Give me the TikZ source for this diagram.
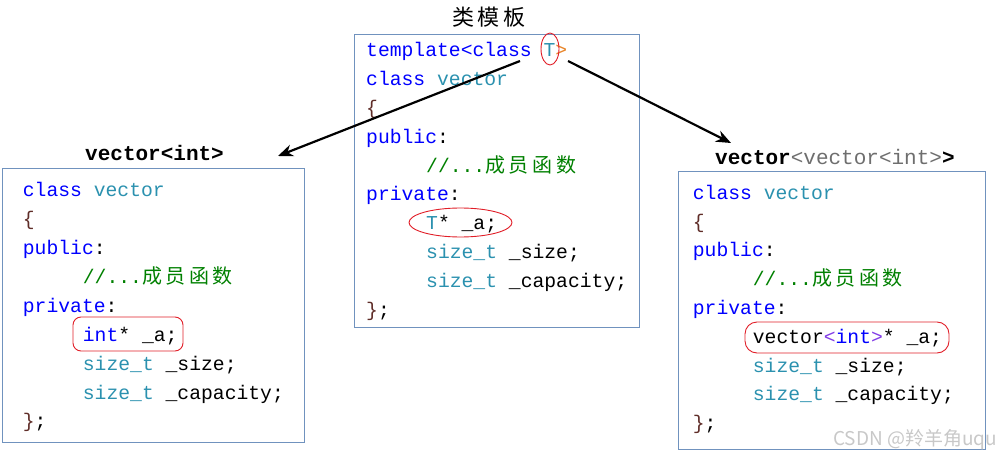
\documentclass[tikz,border=0pt]{standalone}
\usepackage{fontspec}
\setmonofont{Liberation Mono}
\newfontfamily\cjk{Noto Sans CJK SC}
\usetikzlibrary{shapes.geometric,arrows.meta}
\definecolor{kw}{RGB}{0,0,255}
\definecolor{ty}{RGB}{43,145,175}
\definecolor{cmt}{RGB}{0,128,0}
\definecolor{brc}{RGB}{95,45,40}
\definecolor{org}{RGB}{232,134,43}
\definecolor{lbgray}{RGB}{110,110,110}
\definecolor{boxc}{RGB}{112,146,190}
\definecolor{hlred}{RGB}{225,30,40}
\definecolor{ang}{RGB}{130,60,230}
\definecolor{wmc}{RGB}{200,200,200}
\newcommand\cj[1]{\makebox[23.6pt][l]{\cjk\fontsize{20}{24}\selectfont #1}}
\newcommand\cmtline{\textcolor{cmt}{//...\cj{成}\cj{员}\cj{函}\cj{数}}}
\tikzset{
  code/.style={anchor=base west, inner sep=0pt, font=\fontsize{19.7}{24}\selectfont\ttfamily},
  lbl/.style={anchor=base west, inner sep=0pt, font=\fontsize{21}{24}\selectfont\ttfamily\bfseries},
  codebox/.style={draw=boxc, line width=1pt, inner sep=0pt},
  hl/.style={draw=hlred, line width=0.9pt, inner sep=0pt},
  arr/.style={line width=2.2pt, -{Stealth[length=15pt,width=12pt]}},
}
\begin{document}
\begin{tikzpicture}[x=1pt,y=-1pt]
\useasboundingbox (0,0) rectangle (1001,457);
% boxes
\node[codebox, minimum width=285pt, minimum height=292pt] (cb) at (496.5,181) {};
\node[codebox, minimum width=302pt, minimum height=273pt] (lb) at (153,305.5) {};
\node[codebox, minimum width=307pt, minimum height=277pt] (rb) at (831.5,310.5) {};
% title
\node[inner sep=0pt] (title) at (489,17.5) {\cjk\fontsize{22}{26}\selectfont\makebox[26pt]{类}\makebox[26pt]{模}\makebox[26pt]{板}};
% center code
\node[code] (c1) at (366,57) {\textcolor{kw}{template<class }\textcolor{ty}{T}\textcolor{org}{>}};
\node[code] (c2) at (366,85.8) {\textcolor{kw}{class }\textcolor{ty}{vector}};
\node[code] (c3) at (366,114.6) {\textcolor{brc}{\{}};
\node[code] (c4) at (366,143.4) {\textcolor{kw}{public}:};
\node[code] (c5) at (426,172.2) {\cmtline};
\node[code] (c6) at (366,201) {\textcolor{kw}{private}:};
\node[code] (c7) at (426,229.8) {\textcolor{ty}{T}* \_a;};
\node[code] (c8) at (426,258.6) {\textcolor{ty}{size\_t} \_size;};
\node[code] (c9) at (426,287.4) {\textcolor{ty}{size\_t} \_capacity;};
\node[code] (c10) at (366,316.2) {\textcolor{brc}{\}};};
% left code
\node[lbl] (ll) at (85,160.7) {vector<int>};
\node[code] (l1) at (22.7,196.7) {\textcolor{kw}{class }\textcolor{ty}{vector}};
\node[code] (l2) at (22.7,225.6) {\textcolor{brc}{\{}};
\node[code] (l3) at (22.7,254.5) {\textcolor{kw}{public}:};
\node[code] (l4) at (82.7,283.4) {\cmtline};
\node[code] (l5) at (22.7,312.3) {\textcolor{kw}{private}:};
\node[code] (l6) at (82.7,341.2) {\textcolor{kw}{int}* \_a;};
\node[code] (l7) at (82.7,370.1) {\textcolor{ty}{size\_t} \_size;};
\node[code] (l8) at (82.7,399) {\textcolor{ty}{size\_t} \_capacity;};
\node[code] (l9) at (22.7,427.9) {\textcolor{brc}{\}};};
% right code
\node[lbl] (rl) at (715,165) {vector\textcolor{lbgray}{\mdseries<vector<int>}>};
\node[code] (r1) at (692.7,199.3) {\textcolor{kw}{class }\textcolor{ty}{vector}};
\node[code] (r2) at (692.7,228.1) {\textcolor{brc}{\{}};
\node[code] (r3) at (692.7,256.9) {\textcolor{kw}{public}:};
\node[code] (r4) at (752.7,285.7) {\cmtline};
\node[code] (r5) at (692.7,314.5) {\textcolor{kw}{private}:};
\node[code] (r6) at (752.7,343.3) {vector\textcolor{ang}{<}\textcolor{kw}{int}\textcolor{ang}{>}* \_a;};
\node[code] (r7) at (752.7,372.1) {\textcolor{ty}{size\_t} \_size;};
\node[code] (r8) at (752.7,400.9) {\textcolor{ty}{size\_t} \_capacity;};
\node[code] (r9) at (692.7,429.7) {\textcolor{brc}{\}};};
% highlights
\node[hl, ellipse, minimum width=18pt, minimum height=32pt] (hT) at (550,49) {};
\node[hl, ellipse, minimum width=103pt, minimum height=29pt] (hc) at (460.5,222.5) {};
\node[hl, rectangle, rounded corners=8pt, minimum width=110pt, minimum height=34pt] (hl1) at (128,334) {};
\node[hl, rectangle, rounded corners=12pt, minimum width=204pt, minimum height=31pt] (hr1) at (847,337.5) {};
% arrows
\coordinate (s1) at (520,61);
\coordinate (e1) at (278,156);
\coordinate (s2) at (568,61);
\coordinate (e2) at (731,143);
\draw[arr] (s1) -- (e1);
\draw[arr] (s2) -- (e2);
% watermark
\node[anchor=base west, inner sep=0pt, text=wmc] (wm) at (833,445) {\cjk\fontsize{19}{22}\selectfont CSDN @羚羊角uqu};
\end{tikzpicture}
\end{document}
